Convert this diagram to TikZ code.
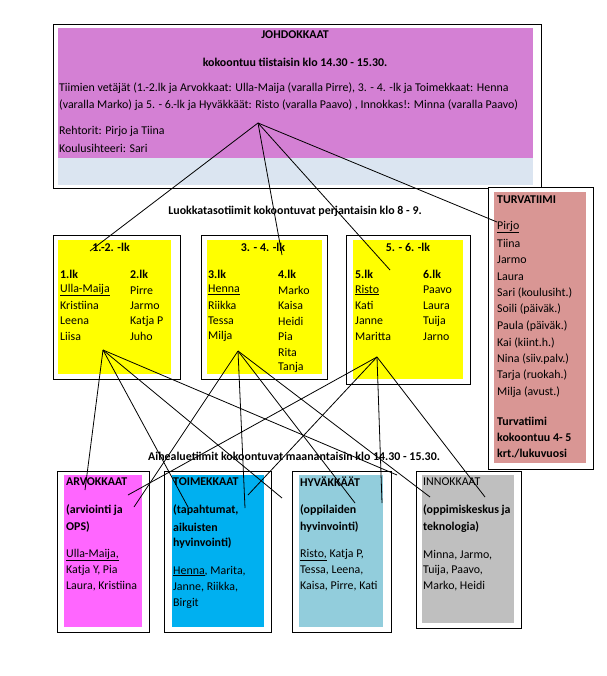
\documentclass[tikz,border=0pt]{standalone}
\usepackage{fontspec}
\setmainfont{Carlito}
\newcommand\fs{\fontsize{11.9}{14}\selectfont}
\newcommand\mkrect[6]{\node[#6,minimum width={#4pt-#2pt},minimum height={#5pt-#3pt}] (#1) at (#2,#3) {};}
\definecolor{johd}{RGB}{212,128,212}
\definecolor{band}{RGB}{219,229,241}
\definecolor{yel}{RGB}{255,255,0}
\definecolor{turv}{RGB}{217,150,148}
\definecolor{arvo}{RGB}{255,102,255}
\definecolor{toim}{RGB}{0,176,240}
\definecolor{hyva}{RGB}{146,205,220}
\definecolor{inno}{RGB}{191,191,191}
\begin{document}
\begin{tikzpicture}[x=1pt,y=-1pt,
  frame/.style={draw=black,line width=1.4pt,fill=white,inner sep=0pt,anchor=north west},
  fillbox/.style={draw=none,inner sep=0pt,anchor=north west},
  link/.style={draw=black,line width=0.8pt},
  t/.style={anchor=west,inner sep=0pt,font=\fs},
  tb/.style={anchor=west,inner sep=0pt,font=\fs\bfseries},
  tc/.style={anchor=center,inner sep=0pt,font=\fs\bfseries}]
\fill[white] (0,0) rectangle (606,676);
\useasboundingbox (0,0) rectangle (606,676);

% ---------- top box ----------
\mkrect{top}{53}{24}{541}{188}{frame}
\mkrect{topfill}{58}{28}{533}{158}{fillbox,fill=johd}
\mkrect{topband}{58}{158}{533}{185}{fillbox,fill=band}
\node[tc] (johdT) at (295,35) {JOHDOKKAAT};
\node[tc] (johdK) at (295,62) {kokoontuu tiistaisin klo 14.30 - 15.30.};
\node[t] (johdA) at (59,88) {Tiimien vetäjät (1.-2.lk ja Arvokkaat: Ulla-Maija (varalla Pirre), 3. - 4. -lk ja Toimekkaat: Henna};
\node[t] (johdB) at (59,105) {(varalla Marko) ja 5. - 6.-lk ja Hyväkkäät: Risto (varalla Paavo) , Innokkas!: Minna (varalla Paavo)};
\node[t] (johdC) at (59,131) {Rehtorit: Pirjo ja Tiina};
\node[t] (johdD) at (59,148) {Koulusihteeri: Sari};

% ---------- heading ----------
\node[tc] (luokH) at (295,211) {Luokkatasotiimit kokoontuvat perjantaisin klo 8 - 9.};

% ---------- class boxes ----------
\mkrect{b1}{53}{235}{180}{379}{frame}
\mkrect{b1f}{58}{240}{171}{374}{fillbox,fill=yel}
\mkrect{b2}{201}{235}{327}{379}{frame}
\mkrect{b2f}{207}{240}{322}{374}{fillbox,fill=yel}
\mkrect{b3}{346}{235}{470}{384}{frame}
\mkrect{b3f}{353}{240}{463}{379}{fillbox,fill=yel}

\node[tc] (b1t) at (111,247) {1.-2. -lk};
\node[tb] at (60,274) {1.lk};
\node[t] at (60,290) {\underline{Ulla-Maija}};
\node[t] at (60,305.5) {Kristiina};
\node[t] at (60,321) {Leena};
\node[t] at (60,336.5) {Liisa};
\node[tb] at (130,274) {2.lk};
\node[t] at (130,290) {Pirre};
\node[t] at (130,305.5) {Jarmo};
\node[t] at (130,321) {Katja P};
\node[t] at (130,336.5) {Juho};

\node[tc] (b2t) at (263,247) {3. - 4. -lk};
\node[tb] at (208,274) {3.lk};
\node[t] at (208,290) {\underline{Henna}};
\node[t] at (208,305.5) {Riikka};
\node[t] at (208,321) {Tessa};
\node[t] at (208,336.5) {Milja};
\node[tb] at (278,274) {4.lk};
\node[t] at (278,290) {Marko};
\node[t] at (278,305.5) {Kaisa};
\node[t] at (278,321) {Heidi};
\node[t] at (278,336.5) {Pia};
\node[t] at (278,352) {Rita};
\node[t] at (278,367) {Tanja};

\node[tc] (b3t) at (408,247) {5. - 6. -lk};
\node[tb] at (355,274) {5.lk};
\node[t] at (355,290) {\underline{Risto}};
\node[t] at (355,305.5) {Kati};
\node[t] at (355,321) {Janne};
\node[t] at (355,336.5) {Maritta};
\node[tb] at (423,274) {6.lk};
\node[t] at (423,290) {Paavo};
\node[t] at (423,305.5) {Laura};
\node[t] at (423,321) {Tuija};
\node[t] at (423,336.5) {Jarno};

% ---------- turvatiimi ----------
\mkrect{tv}{488}{187}{593}{469}{frame}
\mkrect{tvf}{494}{192}{586}{463}{fillbox,fill=turv}
\node[tb] (tvt) at (497,200) {TURVATIIMI};
\node[t] at (497,227) {\underline{Pirjo}};
\node[t] at (497,243.5) {Tiina};
\node[t] at (497,260) {Jarmo};
\node[t] at (497,276.5) {Laura};
\node[t] at (497,293) {Sari (koulusiht.)};
\node[t] at (497,309.5) {Soili (päiväk.)};
\node[t] at (497,326) {Paula (päiväk.)};
\node[t] at (497,342.5) {Kai (kiint.h.)};
\node[t] at (497,359) {Nina (siiv.palv.)};
\node[t] at (497,375.5) {Tarja (ruokah.)};
\node[t] at (497,392) {Milja (avust.)};
\node[tb] at (497,421) {Turvatiimi};
\node[tb] at (497,437.5) {kokoontuu 4- 5};
\node[tb] at (497,454) {krt./lukuvuosi};

% ---------- heading 2 ----------
\node[tc] (aiheH) at (294,456) {Aihealuetiimit kokoontuvat maanantaisin klo 14.30 - 15.30.};

% ---------- bottom boxes ----------
\mkrect{ab}{57}{471}{149}{632}{frame}
\mkrect{abf}{64}{475}{142}{627}{fillbox,fill=arvo}
\node[tb] at (66,482) {ARVOKKAAT};
\node[tb] at (66,510) {(arviointi ja};
\node[tb] at (66,527) {OPS)};
\node[t] at (66,555) {\underline{Ulla-Maija,}};
\node[t] at (66,570.5) {Katja Y, Pia};
\node[t] at (66,586) {Laura, Kristiina};

\mkrect{tb}{164}{471}{271}{632}{frame}
\mkrect{tbf}{172}{475}{264}{627}{fillbox,fill=toim}
\node[tb] at (173,482) {TOIMEKKAAT};
\node[tb] at (173,510) {(tapahtumat,};
\node[tb] at (173,527) {aikuisten};
\node[tb] at (173,543) {hyvinvointi)};
\node[t] at (173,571) {\underline{Henna}, Marita,};
\node[t] at (173,587) {Janne, Riikka,};
\node[t] at (173,603) {Birgit};

\mkrect{hb}{292}{471}{391}{632}{frame}
\mkrect{hbf}{299}{475}{383}{627}{fillbox,fill=hyva}
\node[tb] at (300,482) {HYVÄKKÄÄT};
\node[tb] at (300,510) {(oppilaiden};
\node[tb] at (300,527) {hyvinvointi)};
\node[t] at (300,555) {\underline{Risto,} Katja P,};
\node[t] at (300,570.5) {Tessa, Leena,};
\node[t] at (300,586) {Kaisa, Pirre, Kati};

\mkrect{ib}{416}{471}{521}{628}{frame}
\mkrect{ibf}{422}{475}{514}{623}{fillbox,fill=inno}
\node[t] at (423,482) {INNOKKAAT};
\node[tb] at (423,510) {(oppimiskeskus ja};
\node[tb] at (423,527) {teknologia)};
\node[t] at (423,555) {Minna, Jarmo,};
\node[t] at (423,570.5) {Tuija, Paavo,};
\node[t] at (423,586) {Marko, Heidi};

% ---------- connector points ----------
\coordinate (P0) at (258,123);
\coordinate (P1) at (103,350);
\coordinate (P2) at (238,351);
\coordinate (P3) at (377,357);
\coordinate (e01) at (90,251);
\coordinate (e02) at (282,255);
\coordinate (e03) at (390,270);
\coordinate (e04) at (497,222);
\coordinate (a1) at (85,490);
\coordinate (a2) at (134,507);
\coordinate (a3) at (128,495);
\coordinate (t1) at (188,507);
\coordinate (t2) at (245,508);
\coordinate (t3) at (248,495);
\coordinate (g1) at (282,498);
\coordinate (h2) at (355,503);
\coordinate (h3) at (382,503);
\coordinate (g2) at (397,475);
\coordinate (i2) at (430,497);
\coordinate (i3) at (485,497);

\draw[link] (P0) -- (e01);
\draw[link] (P0) -- (e02);
\draw[link] (P0) -- (e03);
\draw[link] (P0) -- (e04);
\draw[link] (P1) -- (a1);
\draw[link] (P1) -- (t1);
\draw[link] (P1) -- (g1);
\draw[link] (P1) -- (g2);
\draw[link] (P2) -- (a2);
\draw[link] (P2) -- (t2);
\draw[link] (P2) -- (h2);
\draw[link] (P2) -- (i2);
\draw[link] (P3) -- (a3);
\draw[link] (P3) -- (t3);
\draw[link] (P3) -- (h3);
\draw[link] (P3) -- (i3);
\end{tikzpicture}
\end{document}
